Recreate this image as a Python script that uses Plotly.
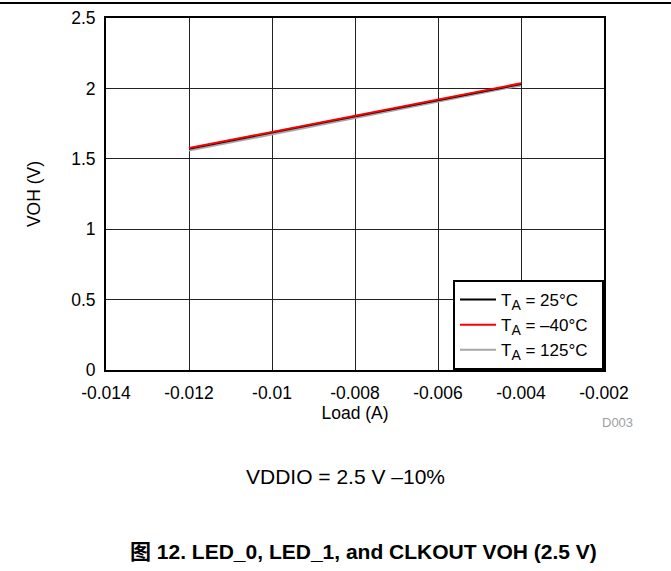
import plotly.graph_objects as go

load_a = [-0.012, -0.010, -0.008, -0.006, -0.004]
voh_25 = [1.572, 1.688, 1.803, 1.918, 2.031]
voh_m40 = [1.576, 1.692, 1.807, 1.922, 2.036]
voh_125 = [1.558, 1.673, 1.789, 1.905, 2.021]

x_tickvals = [-0.014, -0.012, -0.010, -0.008, -0.006, -0.004, -0.002]
x_ticktext = ["-0.014", "-0.012", "-0.01", "-0.008", "-0.006", "-0.004", "-0.002"]
y_tickvals = [0, 0.5, 1, 1.5, 2, 2.5]
y_ticktext = ["0", "0.5", "1", "1.5", "2", "2.5"]

sub = '<sub><span style="font-size:14px">A</span></sub>'
series = [
    ("T" + sub + " = 25°C", voh_25, "#000000"),
    ("T" + sub + " = –40°C", voh_m40, "#ff0000"),
    ("T" + sub + " = 125°C", voh_125, "#a6a6a6"),
]

fig = go.Figure()
order = [2, 0, 1]
for i in order:
    name, vals, col = series[i]
    fig.add_trace(go.Scatter(x=load_a, y=vals, mode="lines", name=name + "&nbsp;&nbsp;",
                             line=dict(color=col, width=2), legendrank=i + 1))

font = "Liberation Sans, Arial, sans-serif"
AX = 17.5
L, R, T, B = 106, 67, 18, 201
W, H = 671, 571
pw = W - L - R
ph = H - T - B
def px(x):
    return (x - L) / pw
def py(y):
    return (H - B - y) / ph

fig.update_layout(
    width=W, height=H,
    margin=dict(l=L, r=R, t=T, b=B, autoexpand=False),
    paper_bgcolor="white", plot_bgcolor="white",
    font=dict(family=font, size=AX, color="#000"),
    showlegend=True,
    legend=dict(x=1, y=0, xanchor="right", yanchor="bottom",
                bordercolor="#000", borderwidth=2, bgcolor="white",
                font=dict(size=17, family=font), tracegroupgap=0,
                itemwidth=36),
    xaxis=dict(range=[-0.014, -0.002], tickvals=x_tickvals, ticktext=x_ticktext,
               showgrid=True, gridcolor="#222", gridwidth=1,
               showline=True, linecolor="#000", linewidth=2, mirror=True,
               zeroline=False, ticks="", tickfont=dict(size=AX), tickangle=0,
               automargin=False, ticklabelstandoff=6,
               title=dict(text="Load (A)", font=dict(size=AX), standoff=2)),
    yaxis=dict(range=[0, 2.5], tickvals=y_tickvals, ticktext=y_ticktext,
               showgrid=True, gridcolor="#222", gridwidth=1,
               showline=True, linecolor="#000", linewidth=2, mirror=True,
               zeroline=False, ticks="", tickfont=dict(size=AX),
               automargin=False, ticklabelstandoff=5,
               title=dict(text="VOH (V)", font=dict(size=AX), standoff=26)),
    shapes=[dict(type="line", xref="paper", yref="paper", x0=px(0), x1=px(W),
                 y0=py(3), y1=py(3), line=dict(color="#000", width=2))],
    annotations=[
        dict(text="D003", x=px(617), y=py(422), xref="paper", yref="paper", showarrow=False,
             xanchor="center", yanchor="middle",
             font=dict(size=13, color="#a0a0a0", family=font)),
        dict(text="VDDIO = 2.5 V –10%", x=px(345), y=py(476), xref="paper", yref="paper",
             xanchor="center", yanchor="middle",
             showarrow=False, font=dict(size=21, family=font)),
        dict(text="<b>图 12. LED_0, LED_1, and CLKOUT VOH (2.5 V)</b>", x=px(363), y=py(551),
             xref="paper", yref="paper", showarrow=False, xanchor="center", yanchor="middle",
             font=dict(size=21, family="Liberation Sans, Noto Sans CJK SC, sans-serif")),
    ],
)

fig.write_html("out.html", config={"displayModeBar": False},
               post_script="document.body.style.margin='0';")
